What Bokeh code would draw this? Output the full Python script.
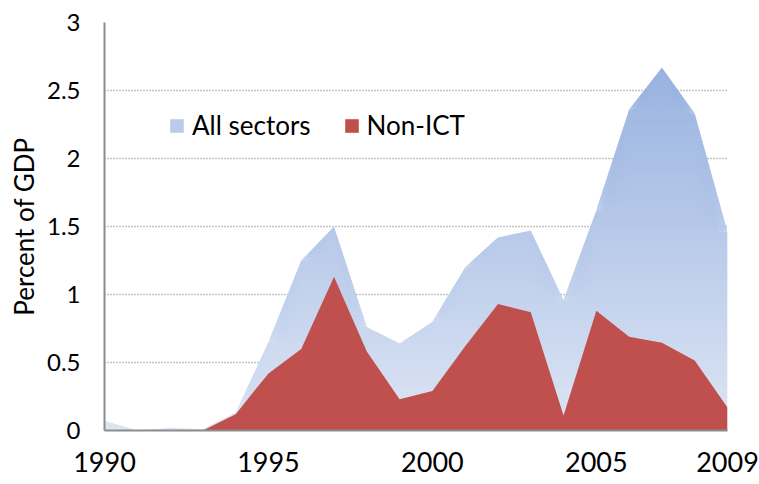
import numpy as np
from bokeh.plotting import figure
from bokeh.models import Range1d, FixedTicker, Legend, LegendItem
from bokeh.embed import file_html
from bokeh.resources import INLINE

# ---- data ----
years = list(range(1990, 2010))
all_sectors = [0.07, 0.00, 0.02, 0.01, 0.13, 0.65, 1.25, 1.50, 0.76, 0.64,
               0.80, 1.20, 1.42, 1.47, 0.96, 1.62, 2.36, 2.67, 2.33, 1.46]
non_ict = [0.00, 0.00, 0.00, 0.00, 0.12, 0.42, 0.60, 1.13, 0.58, 0.23,
           0.29, 0.62, 0.93, 0.87, 0.11, 0.88, 0.69, 0.645, 0.515, 0.17]
series_names = ["All sectors", "Non-ICT"]
x_ticks = [1990, 1995, 2000, 2005, 2009]
x_tick_labels = ["1990", "1995", "2000", "2005", "2009"]
y_ticks = [0, 0.5, 1, 1.5, 2, 2.5, 3]
y_tick_labels = ["0", "0.5", "1", "1.5", "2", "2.5", "3"]
y_title = "Percent of GDP"

FONT = "Lato"

p = figure(width=759, height=484, x_range=Range1d(1990, 2009), y_range=Range1d(0, 3),
           output_backend="svg", toolbar_location=None,
           min_border_left=104, min_border_right=32, min_border_top=22, min_border_bottom=54)
p.outline_line_color = None
p.background_fill_color = "white"
p.border_fill_color = "white"

# grid
p.xgrid.grid_line_color = None
p.ygrid.ticker = FixedTicker(ticks=y_ticks)
p.ygrid.grid_line_color = "#8a8a8a"
p.ygrid.grid_line_dash = "1 2"
p.ygrid.grid_line_width = 1.3

# gradient fill for "All sectors" via horizontal bands
a = np.array(all_sectors, dtype=float)
top_rgb = np.array([152, 178, 224])
bot_rgb = np.array([221, 229, 244])
top_level = 2.7
n_bands = 90
edges = np.linspace(0, top_level, n_bands + 1)
band_renderers = []
for k in range(n_bands):
    lo, hi = edges[k], edges[k + 1]
    t = (lo + hi) / 2 / top_level
    rgb = (bot_rgb + (top_rgb - bot_rgb) * t).round().astype(int)
    col = "#%02x%02x%02x" % tuple(rgb)
    r = p.varea(x=years, y1=np.minimum(a, lo), y2=np.minimum(a, hi + 0.012),
                fill_color=col, fill_alpha=1.0)
    band_renderers.append(r)

red = p.varea(x=years, y1=[0] * len(years), y2=non_ict, fill_color="#c0504d")

# y axis
p.yaxis.ticker = FixedTicker(ticks=y_ticks)
p.yaxis.major_label_overrides = {t: l for t, l in zip(y_ticks, y_tick_labels)}
p.yaxis.major_label_text_font = FONT
p.yaxis.major_label_text_font_size = "24px"
p.yaxis.major_label_text_color = "black"
p.yaxis.major_tick_line_color = None
p.yaxis.minor_tick_line_color = None
p.yaxis.major_tick_out = 0
p.yaxis.major_tick_in = 0
p.yaxis.major_label_standoff = 24
p.yaxis.axis_line_color = "#8c8c8c"
p.yaxis.axis_line_width = 2
p.yaxis.axis_label = y_title
p.yaxis.axis_label_text_font = FONT
p.yaxis.axis_label_text_font_size = "26px"
p.yaxis.axis_label_text_font_style = "normal"
p.yaxis.axis_label_text_color = "black"
p.yaxis.axis_label_standoff = 4

# x axis
p.xaxis.ticker = FixedTicker(ticks=x_ticks)
p.xaxis.major_label_overrides = {t: l for t, l in zip(x_ticks, x_tick_labels)}
p.xaxis.major_label_text_font = FONT
p.xaxis.major_label_text_font_size = "27px"
p.xaxis.major_label_text_color = "black"
p.xaxis.major_tick_line_color = None
p.xaxis.minor_tick_line_color = None
p.xaxis.major_tick_out = 0
p.xaxis.major_tick_in = 0
p.xaxis.major_label_standoff = 21
p.xaxis.axis_line_color = "#8c8c8c"
p.xaxis.axis_line_width = 2

# legend
mid_band = band_renderers[int(n_bands * 0.5)]
legend = Legend(items=[LegendItem(label=series_names[0], renderers=[mid_band]),
                       LegendItem(label=series_names[1], renderers=[red])],
                orientation="horizontal", location=(64, 289),
                glyph_width=17, glyph_height=17, label_standoff=7, spacing=32,
                padding=0, margin=0, border_line_color=None,
                background_fill_alpha=0, label_text_font=FONT,
                label_text_font_size="26px", label_text_color="black")
p.add_layout(legend)

open("out.html", "w").write(file_html(p, INLINE))
